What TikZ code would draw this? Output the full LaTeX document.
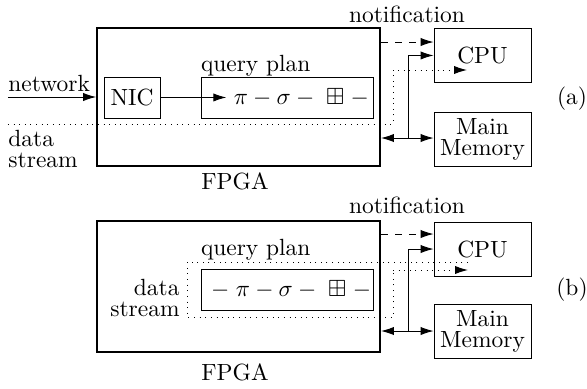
\documentclass[tikz,border=0pt]{standalone}
\usepackage{amsmath}
\usepackage{amssymb}
\usetikzlibrary{arrows.meta,calc}
\tikzstyle{chip}=[draw,thick,minimum width=4.245cm,inner sep=0pt]
\tikzstyle{unit}=[draw,minimum width=1.455cm,minimum height=0.81cm,inner sep=0pt,align=center]
\tikzstyle{plan}=[draw,minimum width=2.58cm,minimum height=0.615cm,inner sep=0pt]
\tikzstyle{lbl}=[inner sep=0pt,align=left]

\begin{document}
\begin{tikzpicture}[>={Latex[length=5.5pt,width=3.5pt]}]
\useasboundingbox (0,0) rectangle (8.805,5.82);
% (a)
\node[chip,minimum height=2.07cm] (fpgaA) at (3.578, 4.365) {};
\node[draw,minimum width=0.84cm,minimum height=0.615cm,inner sep=0pt] (nicA) at (1.98, 4.358) {NIC};
\node[plan] (planA) at (4.305, 4.358) {};
\node[lbl,anchor=west] (opsA) at (3.5, 4.358) {$\pi - \sigma - \;\boxplus\; -$};
\node[unit] (cpuA) at (7.238, 4.988) {CPU};
\node[unit] (memA) at (7.238, 3.735) {Main\\[-3pt]Memory};
\coordinate (netA) at (0.12, 4.365);
\coordinate (dsA) at (0.12, 3.96);
\coordinate (busA) at (6.12, 3.75);
\draw[->] (netA) -- (netA -| fpgaA.west);
\draw[->,shorten >=3pt] (nicA) -- (opsA.west);
\draw[dotted,->] (dsA) -- (5.895, 3.96) -- (5.895, 4.77) -- (7.005, 4.77);
\draw[dashed,->] (fpgaA.east |- 0,5.19) -- (cpuA.west |- 0,5.19);
\draw[<->] (busA -| fpgaA.east) -- (busA -| memA.west);
\draw[->] (busA) |- (cpuA.west);
\node[lbl,anchor=south west] (netlblA) at (0.12, 4.44) {network};
\node[lbl,anchor=north west] (dslblA) at (0.12, 3.87) {data\\[-3pt]stream};
\node[lbl,anchor=base west] (qplblA) at (planA.north west |- 0,4.755) {query plan};
\node[lbl,anchor=base] (notA) at (6.105, 5.49) {notification};
\node[lbl] (fpgalblA) at (3.525, 3.105) {FPGA};
\node[lbl] (tagA) at (8.58, 4.335) {(a)};
% (b)
\node[chip,minimum height=1.965cm] (fpgaB) at (3.578, 1.5225) {};
\node[plan] (planB) at (4.305, 1.4775) {};
\node[lbl,anchor=west] (opsB) at (3.16, 1.4775) {${-}\;\pi - \sigma - \;\boxplus\; -$};
\node[unit] (cpuB) at (7.238, 2.085) {CPU};
\node[unit] (memB) at (7.238, 0.855) {Main\\[-3pt]Memory};
\coordinate (busB) at (6.12, 0.855);
\draw[dotted] (7.02, 1.89) -- (2.805, 1.89) -- (2.805, 1.065) -- (5.895, 1.065) -- (5.895, 1.77);
\draw[dotted,->] (5.895, 1.77) -- (7.02, 1.77);
\draw[dashed,->] (fpgaB.east |- 0,2.31) -- (cpuB.west |- 0,2.31);
\draw[<->] (busB -| fpgaB.east) -- (busB -| memB.west);
\draw[->] (busB) |- (cpuB.west);
\node[lbl,anchor=east,align=right] (dslblB) at (2.7, 1.35) {data\\[-3pt]stream};
\node[lbl,anchor=base west] (qplblB) at (planB.north west |- 0,1.995) {query plan};
\node[lbl,anchor=base] (notB) at (6.105, 2.625) {notification};
\node[lbl] (fpgalblB) at (3.525, 0.24) {FPGA};
\node[lbl] (tagB) at (8.58, 1.47) {(b)};
\end{tikzpicture}
\end{document}
